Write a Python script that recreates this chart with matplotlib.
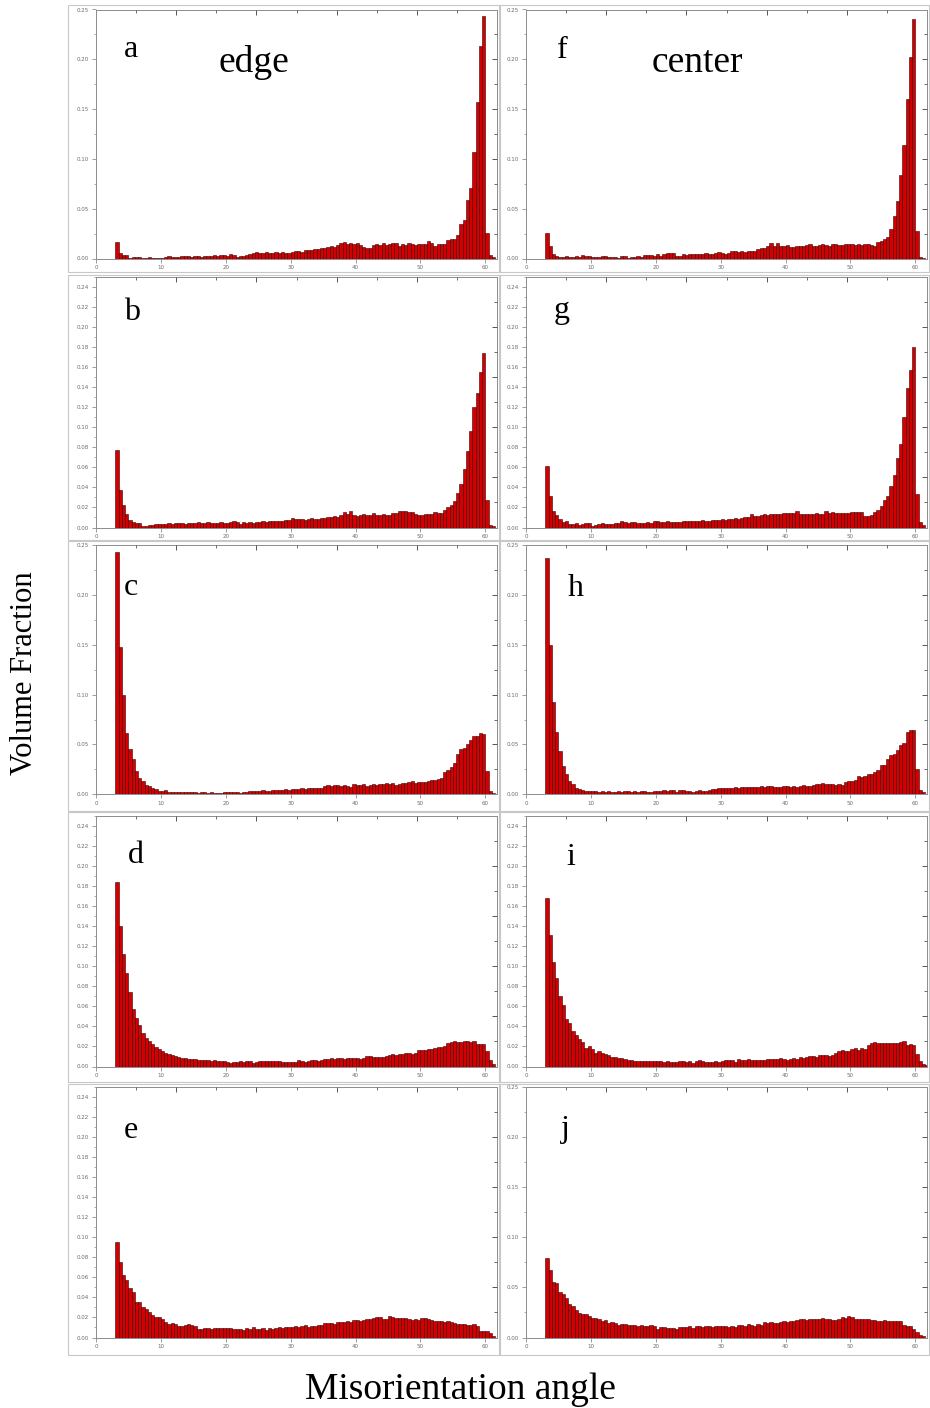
import numpy as np
import matplotlib
matplotlib.use("Agg")
import matplotlib.pyplot as plt
from matplotlib.patches import Rectangle
from matplotlib.ticker import MultipleLocator, FormatStrFormatter

# misorientation angle bins (left edge, deg), 0.5 deg wide
angles = np.arange(3.0, 62.0, 0.5)

# volume fraction per bin
edge_a = [0.017, 0.006, 0.004, 0.004, 0.001, 0.002, 0.002, 0.002, 0.001, 0.001,
          0.002, 0.001, 0.001, 0.001, 0.001, 0.002, 0.003, 0.002, 0.002, 0.002,
          0.003, 0.003, 0.003, 0.002, 0.003, 0.003, 0.002, 0.003, 0.003, 0.003,
          0.004, 0.003, 0.004, 0.004, 0.003, 0.005, 0.004, 0.002, 0.003, 0.003,
          0.004, 0.005, 0.006, 0.007, 0.006, 0.006, 0.007, 0.006, 0.006, 0.007,
          0.006, 0.007, 0.006, 0.006, 0.007, 0.008, 0.008, 0.007, 0.009, 0.009,
          0.009, 0.010, 0.010, 0.011, 0.011, 0.012, 0.013, 0.012, 0.014, 0.016,
          0.017, 0.015, 0.016, 0.015, 0.016, 0.014, 0.012, 0.011, 0.011, 0.014,
          0.015, 0.014, 0.016, 0.014, 0.015, 0.016, 0.016, 0.013, 0.015, 0.014,
          0.016, 0.015, 0.014, 0.015, 0.015, 0.015, 0.018, 0.016, 0.013, 0.015,
          0.015, 0.015, 0.019, 0.020, 0.020, 0.024, 0.035, 0.039, 0.059, 0.071,
          0.107, 0.157, 0.213, 0.243, 0.026, 0.004, 0.002, 0.000]
edge_b = [0.077, 0.037, 0.022, 0.013, 0.007, 0.005, 0.004, 0.004, 0.001, 0.001,
          0.002, 0.002, 0.003, 0.003, 0.003, 0.003, 0.004, 0.003, 0.004, 0.004,
          0.004, 0.003, 0.004, 0.004, 0.004, 0.005, 0.004, 0.004, 0.005, 0.004,
          0.004, 0.004, 0.005, 0.004, 0.004, 0.005, 0.006, 0.005, 0.003, 0.005,
          0.004, 0.005, 0.004, 0.005, 0.005, 0.006, 0.005, 0.006, 0.006, 0.006,
          0.006, 0.006, 0.007, 0.007, 0.009, 0.008, 0.008, 0.008, 0.007, 0.008,
          0.009, 0.008, 0.008, 0.009, 0.009, 0.010, 0.010, 0.011, 0.010, 0.012,
          0.015, 0.013, 0.016, 0.012, 0.011, 0.012, 0.013, 0.012, 0.012, 0.014,
          0.012, 0.012, 0.013, 0.012, 0.012, 0.014, 0.014, 0.016, 0.016, 0.016,
          0.015, 0.015, 0.013, 0.012, 0.012, 0.013, 0.013, 0.013, 0.015, 0.014,
          0.014, 0.017, 0.020, 0.022, 0.026, 0.034, 0.043, 0.058, 0.076, 0.096,
          0.120, 0.134, 0.155, 0.174, 0.027, 0.002, 0.001, 0.000]
edge_c = [0.243, 0.148, 0.100, 0.061, 0.045, 0.035, 0.023, 0.016, 0.013, 0.009,
          0.008, 0.006, 0.005, 0.003, 0.003, 0.004, 0.002, 0.002, 0.002, 0.002,
          0.002, 0.002, 0.002, 0.002, 0.002, 0.001, 0.002, 0.002, 0.001, 0.002,
          0.001, 0.001, 0.001, 0.002, 0.002, 0.002, 0.002, 0.002, 0.001, 0.002,
          0.002, 0.003, 0.003, 0.003, 0.003, 0.004, 0.003, 0.003, 0.004, 0.004,
          0.004, 0.004, 0.005, 0.004, 0.005, 0.005, 0.005, 0.006, 0.005, 0.006,
          0.006, 0.006, 0.006, 0.006, 0.008, 0.009, 0.008, 0.009, 0.009, 0.008,
          0.009, 0.008, 0.007, 0.010, 0.009, 0.009, 0.010, 0.008, 0.009, 0.010,
          0.009, 0.010, 0.010, 0.011, 0.010, 0.011, 0.009, 0.010, 0.011, 0.011,
          0.012, 0.013, 0.011, 0.012, 0.012, 0.012, 0.013, 0.014, 0.014, 0.015,
          0.016, 0.022, 0.024, 0.027, 0.031, 0.040, 0.045, 0.046, 0.050, 0.054,
          0.058, 0.058, 0.061, 0.060, 0.023, 0.003, 0.001, 0.000]
edge_d = [0.184, 0.140, 0.112, 0.093, 0.074, 0.057, 0.048, 0.041, 0.033, 0.028,
          0.025, 0.022, 0.019, 0.017, 0.015, 0.013, 0.012, 0.011, 0.010, 0.009,
          0.008, 0.008, 0.007, 0.007, 0.007, 0.006, 0.006, 0.006, 0.006, 0.005,
          0.006, 0.005, 0.005, 0.005, 0.004, 0.003, 0.004, 0.004, 0.005, 0.004,
          0.005, 0.005, 0.003, 0.004, 0.005, 0.005, 0.005, 0.005, 0.005, 0.005,
          0.005, 0.004, 0.004, 0.004, 0.004, 0.004, 0.006, 0.005, 0.004, 0.005,
          0.006, 0.006, 0.005, 0.006, 0.007, 0.007, 0.008, 0.007, 0.008, 0.008,
          0.007, 0.008, 0.008, 0.008, 0.008, 0.007, 0.008, 0.010, 0.010, 0.009,
          0.009, 0.009, 0.009, 0.010, 0.011, 0.012, 0.011, 0.012, 0.012, 0.013,
          0.013, 0.012, 0.013, 0.016, 0.016, 0.016, 0.017, 0.017, 0.018, 0.019,
          0.019, 0.020, 0.023, 0.024, 0.025, 0.024, 0.024, 0.025, 0.025, 0.024,
          0.025, 0.022, 0.022, 0.022, 0.015, 0.006, 0.002, 0.000]
edge_e = [0.095, 0.075, 0.062, 0.057, 0.049, 0.045, 0.035, 0.035, 0.030, 0.028,
          0.025, 0.022, 0.020, 0.020, 0.018, 0.015, 0.013, 0.014, 0.013, 0.011,
          0.011, 0.012, 0.013, 0.012, 0.011, 0.008, 0.008, 0.009, 0.009, 0.008,
          0.009, 0.009, 0.009, 0.009, 0.009, 0.009, 0.008, 0.008, 0.008, 0.007,
          0.009, 0.008, 0.010, 0.008, 0.008, 0.009, 0.007, 0.009, 0.008, 0.009,
          0.010, 0.009, 0.010, 0.010, 0.010, 0.011, 0.010, 0.011, 0.012, 0.010,
          0.011, 0.011, 0.012, 0.012, 0.014, 0.014, 0.014, 0.013, 0.015, 0.015,
          0.015, 0.016, 0.015, 0.017, 0.017, 0.016, 0.017, 0.018, 0.018, 0.019,
          0.020, 0.020, 0.018, 0.018, 0.021, 0.020, 0.019, 0.019, 0.019, 0.019,
          0.018, 0.017, 0.018, 0.017, 0.019, 0.019, 0.018, 0.017, 0.016, 0.016,
          0.016, 0.015, 0.016, 0.015, 0.014, 0.013, 0.013, 0.013, 0.012, 0.012,
          0.013, 0.011, 0.006, 0.006, 0.006, 0.004, 0.001, 0.000]

center_f = [0.026, 0.013, 0.005, 0.003, 0.002, 0.002, 0.003, 0.002, 0.002, 0.003,
            0.002, 0.004, 0.003, 0.003, 0.002, 0.002, 0.002, 0.003, 0.003, 0.002,
            0.002, 0.002, 0.001, 0.003, 0.003, 0.001, 0.002, 0.002, 0.003, 0.002,
            0.004, 0.004, 0.004, 0.003, 0.005, 0.003, 0.005, 0.006, 0.006, 0.006,
            0.003, 0.003, 0.005, 0.004, 0.005, 0.005, 0.005, 0.005, 0.005, 0.006,
            0.005, 0.005, 0.006, 0.007, 0.006, 0.005, 0.006, 0.008, 0.008, 0.007,
            0.008, 0.007, 0.008, 0.008, 0.008, 0.010, 0.011, 0.011, 0.013, 0.016,
            0.013, 0.016, 0.013, 0.013, 0.014, 0.012, 0.012, 0.013, 0.013, 0.013,
            0.014, 0.015, 0.013, 0.013, 0.014, 0.015, 0.014, 0.013, 0.015, 0.015,
            0.014, 0.014, 0.015, 0.015, 0.015, 0.014, 0.015, 0.014, 0.015, 0.015,
            0.014, 0.013, 0.017, 0.018, 0.020, 0.022, 0.030, 0.043, 0.058, 0.084,
            0.114, 0.160, 0.202, 0.240, 0.028, 0.002, 0.001, 0.000]
center_g = [0.061, 0.031, 0.016, 0.012, 0.008, 0.005, 0.006, 0.003, 0.003, 0.004,
            0.002, 0.003, 0.004, 0.004, 0.001, 0.002, 0.003, 0.004, 0.003, 0.003,
            0.003, 0.004, 0.004, 0.006, 0.005, 0.004, 0.005, 0.005, 0.004, 0.004,
            0.004, 0.005, 0.004, 0.006, 0.006, 0.005, 0.005, 0.006, 0.005, 0.005,
            0.005, 0.005, 0.006, 0.006, 0.006, 0.006, 0.006, 0.006, 0.007, 0.006,
            0.006, 0.007, 0.007, 0.007, 0.008, 0.007, 0.008, 0.008, 0.009, 0.008,
            0.009, 0.010, 0.010, 0.013, 0.011, 0.011, 0.012, 0.013, 0.012, 0.013,
            0.013, 0.013, 0.013, 0.014, 0.014, 0.014, 0.014, 0.016, 0.013, 0.013,
            0.013, 0.013, 0.013, 0.014, 0.013, 0.013, 0.016, 0.014, 0.015, 0.014,
            0.014, 0.014, 0.014, 0.014, 0.015, 0.015, 0.015, 0.015, 0.011, 0.011,
            0.012, 0.015, 0.017, 0.021, 0.027, 0.031, 0.041, 0.052, 0.069, 0.083,
            0.110, 0.139, 0.157, 0.180, 0.033, 0.005, 0.002, 0.000]
center_h = [0.237, 0.150, 0.093, 0.062, 0.043, 0.028, 0.020, 0.013, 0.010, 0.006,
            0.005, 0.004, 0.003, 0.003, 0.003, 0.003, 0.002, 0.003, 0.002, 0.003,
            0.002, 0.002, 0.003, 0.002, 0.003, 0.003, 0.002, 0.003, 0.002, 0.003,
            0.003, 0.002, 0.002, 0.003, 0.003, 0.003, 0.004, 0.003, 0.004, 0.004,
            0.002, 0.004, 0.004, 0.003, 0.003, 0.002, 0.003, 0.004, 0.003, 0.003,
            0.004, 0.005, 0.005, 0.006, 0.006, 0.006, 0.006, 0.006, 0.007, 0.006,
            0.007, 0.007, 0.007, 0.007, 0.007, 0.007, 0.008, 0.007, 0.008, 0.008,
            0.007, 0.007, 0.007, 0.008, 0.008, 0.007, 0.008, 0.007, 0.008, 0.009,
            0.008, 0.008, 0.009, 0.010, 0.010, 0.011, 0.010, 0.010, 0.010, 0.009,
            0.010, 0.009, 0.012, 0.013, 0.013, 0.014, 0.018, 0.017, 0.018, 0.020,
            0.020, 0.022, 0.024, 0.029, 0.029, 0.035, 0.039, 0.040, 0.044, 0.049,
            0.051, 0.062, 0.064, 0.064, 0.025, 0.004, 0.002, 0.000]
center_i = [0.168, 0.131, 0.104, 0.088, 0.070, 0.061, 0.047, 0.043, 0.035, 0.031,
            0.027, 0.024, 0.018, 0.020, 0.017, 0.013, 0.015, 0.013, 0.012, 0.011,
            0.009, 0.009, 0.008, 0.008, 0.007, 0.006, 0.006, 0.005, 0.005, 0.005,
            0.005, 0.005, 0.005, 0.005, 0.005, 0.005, 0.004, 0.005, 0.004, 0.004,
            0.004, 0.005, 0.005, 0.004, 0.005, 0.003, 0.005, 0.006, 0.005, 0.004,
            0.004, 0.004, 0.005, 0.004, 0.005, 0.006, 0.006, 0.006, 0.004, 0.007,
            0.006, 0.006, 0.007, 0.006, 0.006, 0.006, 0.006, 0.006, 0.007, 0.007,
            0.007, 0.007, 0.008, 0.007, 0.006, 0.007, 0.008, 0.007, 0.009, 0.008,
            0.009, 0.010, 0.010, 0.009, 0.011, 0.011, 0.011, 0.010, 0.011, 0.013,
            0.015, 0.016, 0.015, 0.015, 0.017, 0.018, 0.016, 0.018, 0.017, 0.021,
            0.023, 0.024, 0.023, 0.023, 0.023, 0.023, 0.023, 0.023, 0.023, 0.024,
            0.025, 0.021, 0.022, 0.021, 0.012, 0.005, 0.002, 0.001]
center_j = [0.079, 0.067, 0.055, 0.054, 0.045, 0.043, 0.039, 0.033, 0.031, 0.027,
            0.024, 0.023, 0.023, 0.021, 0.019, 0.019, 0.018, 0.016, 0.017, 0.014,
            0.015, 0.014, 0.012, 0.013, 0.013, 0.012, 0.012, 0.012, 0.011, 0.012,
            0.011, 0.011, 0.012, 0.011, 0.008, 0.010, 0.010, 0.009, 0.009, 0.009,
            0.008, 0.010, 0.010, 0.010, 0.011, 0.009, 0.011, 0.011, 0.010, 0.011,
            0.011, 0.010, 0.011, 0.011, 0.011, 0.011, 0.010, 0.011, 0.010, 0.012,
            0.012, 0.011, 0.013, 0.012, 0.011, 0.013, 0.012, 0.015, 0.014, 0.015,
            0.014, 0.014, 0.015, 0.016, 0.015, 0.016, 0.016, 0.017, 0.018, 0.018,
            0.017, 0.018, 0.018, 0.018, 0.018, 0.019, 0.018, 0.018, 0.017, 0.017,
            0.018, 0.020, 0.019, 0.021, 0.020, 0.018, 0.018, 0.018, 0.018, 0.018,
            0.017, 0.017, 0.016, 0.016, 0.017, 0.016, 0.016, 0.016, 0.016, 0.016,
            0.012, 0.011, 0.011, 0.008, 0.005, 0.002, 0.001, 0.000]

panels = [
    # label, data, major y step, column, row
    ("a", edge_a, 0.05, 0, 0), ("b", edge_b, 0.02, 0, 1), ("c", edge_c, 0.05, 0, 2),
    ("d", edge_d, 0.02, 0, 3), ("e", edge_e, 0.02, 0, 4),
    ("f", center_f, 0.05, 1, 0), ("g", center_g, 0.02, 1, 1), ("h", center_h, 0.05, 1, 2),
    ("i", center_i, 0.02, 1, 3), ("j", center_j, 0.05, 1, 4),
]

W, H = 930, 1408
fig = plt.figure(figsize=(W / 100, H / 100), dpi=100)

col_x = [(96, 497), (526, 927)]
row_y = [(9.5, 258.5), (276.7, 527.5), (545, 794.3), (815.5, 1066.5), (1087, 1337.5)]
frame_x = [(68, 500), (499, 929)]
frame_y = [(5, 272), (275, 540), (541, 811), (812, 1082), (1084, 1355)]
# letter positions (x, baseline) in pixels
letter_pos = {"a": (131, 57), "b": (132, 320), "c": (131, 595), "d": (136, 863),
              "e": (131, 1138), "f": (562, 58), "g": (562, 318), "h": (576, 596),
              "i": (571, 865), "j": (565, 1137)}


def fx(x):
    return x / W


def fy(y):
    return 1 - y / H


gray = "#8c8c8c"
for label, vals, step, col, row in panels:
    l, r = col_x[col]
    t, b = row_y[row]
    rect = [fx(l), fy(b), fx(r) - fx(l), fy(t) - fy(b)]

    # light frame around each screenshot panel
    fl, fr = frame_x[col]
    ft, fb = frame_y[row]
    fig.patches.append(Rectangle((fx(fl), fy(fb)), fx(fr) - fx(fl), fy(ft) - fy(fb),
                                 transform=fig.transFigure, fill=False,
                                 edgecolor="#c8c8c8", linewidth=0.8))

    ax = fig.add_axes(rect)
    ax.bar(angles, vals, width=0.5, align="edge", color="#d20000",
           edgecolor="#3a0000", linewidth=0.4)
    ax.set_xlim(0, 61.8)
    ax.set_ylim(0, 0.25)
    ax.xaxis.set_major_locator(MultipleLocator(10))
    ax.yaxis.set_major_locator(MultipleLocator(step))
    ax.yaxis.set_minor_locator(MultipleLocator(step / 2))
    ax.yaxis.set_major_formatter(FormatStrFormatter("%.2f"))
    if step == 0.02:
        ax.set_yticks(np.arange(0, 0.241, 0.02))
    ax.tick_params(axis="both", which="major", labelsize=4, labelcolor="#6a6a6a",
                   color=gray, length=3, width=0.6, direction="out", pad=2)
    ax.tick_params(axis="y", which="minor", color=gray, length=1.5, width=0.5,
                   direction="out")
    for s in ax.spines.values():
        s.set_color(gray)
        s.set_linewidth(0.7)

    # top and right ticks split the box in ten, as in the original software
    ax2 = fig.add_axes(rect, facecolor="none")
    ax2.set_xlim(0, 1)
    ax2.set_ylim(0, 1)
    ax2.xaxis.tick_top()
    ax2.yaxis.tick_right()
    ax2.set_xticks([0.2, 0.4, 0.6, 0.8])
    ax2.set_xticks([0.1, 0.3, 0.5, 0.7, 0.9], minor=True)
    ax2.set_yticks([0.2, 0.4, 0.6, 0.8])
    ax2.set_yticks([0.1, 0.3, 0.5, 0.7, 0.9], minor=True)
    ax2.tick_params(which="major", direction="in", length=3.5, width=0.7,
                    color="#555555", labeltop=False, labelright=False)
    ax2.tick_params(which="minor", direction="in", length=2, width=0.6,
                    color="#555555")
    for s in ax2.spines.values():
        s.set_visible(False)

    lx, ly = letter_pos[label]
    fig.text(fx(lx), fy(ly), label, ha="center", va="baseline",
             family="Liberation Serif", fontsize=23, color="black")

fig.text(fx(254), fy(72), "edge", ha="center", va="baseline",
         family="Liberation Serif", fontsize=27)
fig.text(fx(697), fy(72), "center", ha="center", va="baseline",
         family="Liberation Serif", fontsize=27)

fig.text(fx(25), fy(673), "Volume Fraction", rotation=90, ha="center", va="center",
         family="Liberation Serif", fontsize=22)
fig.text(fx(460), fy(1390), "Misorientation angle", ha="center", va="center",
         family="Liberation Serif", fontsize=27)

fig.savefig("out.png", dpi=100, facecolor="white")
